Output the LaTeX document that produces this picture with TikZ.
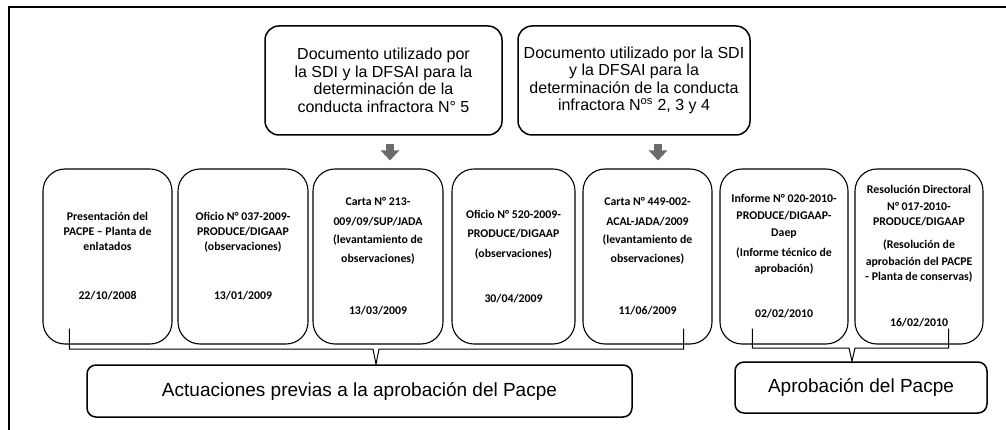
\documentclass[tikz,border=0pt]{standalone}
\usepackage{fontspec}
\setmainfont{Liberation Sans}
\newfontfamily\calibrifont{Carlito}
\usetikzlibrary{arrows.meta,calc}
\begin{document}
\begin{tikzpicture}[x=1pt,y=-1pt,
  topbox/.style={draw, line width=1.5pt, rounded corners=14pt, minimum height=109pt, inner sep=0pt,
    align=center, font=\fontsize{16}{17.5}\selectfont},
  docbox/.style={draw, line width=1.1pt, rounded corners=22pt, minimum height=175pt, inner sep=0pt,
    align=center, font=\calibrifont\bfseries\fontsize{11.8}{15}\selectfont},
  botbox/.style={draw, line width=1.5pt, rounded corners=9pt, inner sep=0pt, font=\fontsize{19}{22}\selectfont},
  bracket/.style={draw, line width=1pt},
  grayarrow/.style={line width=8pt, draw=black!58, -{Triangle[width=18pt,length=10pt]}}
]
\useasboundingbox (0,0) rectangle (1006,430);
% frame
\draw[line width=2pt] (9,430) -- (9,7) -- (1006,7);

% top boxes
\node[topbox, minimum width=237pt] (ta) at (383.5,80.5)
  {Documento utilizado por\\la SDI y la DFSAI para la\\determinación de la\\conducta infractora N° 5};
\node[topbox, minimum width=232pt] (tb) at (634,80.5)
  {Documento utilizado por la SDI\\y la DFSAI para la\\determinación de la conducta\\infractora N\textsuperscript{os} 2, 3 y 4};

% document boxes
\node[docbox, minimum width=129pt] (d1) at (107.5,256.5)
  {Presentación del\\PACPE – Planta de\\enlatados\\[34pt]22/10/2008};
\node[docbox, minimum width=130pt] (d2) at (243,256.5)
  {Oficio N° 037-2009-\\PRODUCE/DIGAAP\\(observaciones)\\[34pt]13/01/2009};
\node[docbox, minimum width=130pt] (d3) at (378,256.5)
  {Carta N° 213-\\[5pt]009/09/SUP/JADA\\[3pt](levantamiento de\\[4pt]observaciones)\\[37pt]13/03/2009};
\node[docbox, minimum width=123pt] (d4) at (513.5,256.5)
  {Oficio N° 520-2009-\\[4pt]PRODUCE/DIGAAP\\[5pt](observaciones)\\[30pt]30/04/2009};
\node[docbox, minimum width=129pt] (d5) at (647.5,256.5)
  {Carta N° 449-002-\\[5pt]ACAL-JADA/2009\\[3pt](levantamiento de\\[4pt]observaciones)\\[37pt]11/06/2009};
\node[docbox, minimum width=128pt] (d6) at (784,256.5)
  {Informe N° 020-2010-\\[2pt]PRODUCE/DIGAAP-\\[2pt]Daep\\[5pt](Informe técnico de\\[1pt]aprobación)\\[30pt]02/02/2010};
\node[docbox, minimum width=128pt] (d7) at (919,256.5)
  {Resolución Directoral\\[2pt]N° 017-2010-\\PRODUCE/DIGAAP\\[8pt](Resolución de\\[2pt]aprobación del PACPE\\- Planta de conservas)\\[31pt]16/02/2010};

% bottom boxes
\node[botbox, minimum width=545pt, minimum height=52pt] (ba) at (359.5,391)
  {Actuaciones previas a la aprobación del Pacpe};
\node[botbox, minimum width=252pt, minimum height=51pt] (bb) at (861,387.5)
  {Aprobación del Pacpe};

% grey arrows
\draw[grayarrow] ($(ta.south)+(6.5,8)$) -- ($(d3.north)+(12,-8)$);
\draw[grayarrow] ($(tb.south)+(24,8)$) -- ($(d5.north)+(10.5,-8)$);

% brackets
\coordinate (la) at ($(d1.south west)+(27,-16)$);
\coordinate (lb) at ($(d5.south east)+(-29,-16)$);
\coordinate (lt) at ($(ba.north)+(16.5,0)$);
\draw[bracket] (la) -- (la |- 0,349) -- ($(lt |- 0,349)+(-3,0)$) -- (lt) -- ($(lt |- 0,349)+(3,0)$) -- (lb |- 0,349) -- (lb);
\coordinate (ra) at ($(d6.south west)+(33,-16)$);
\coordinate (rb) at ($(d7.south east)+(-35,-16)$);
\coordinate (rt) at ($(bb.north)+(-9,0)$);
\draw[bracket] (ra) -- (ra |- 0,348) -- ($(rt |- 0,348)+(-3,0)$) -- (rt) -- ($(rt |- 0,348)+(3,0)$) -- (rb |- 0,348) -- (rb);
\end{tikzpicture}
\end{document}
